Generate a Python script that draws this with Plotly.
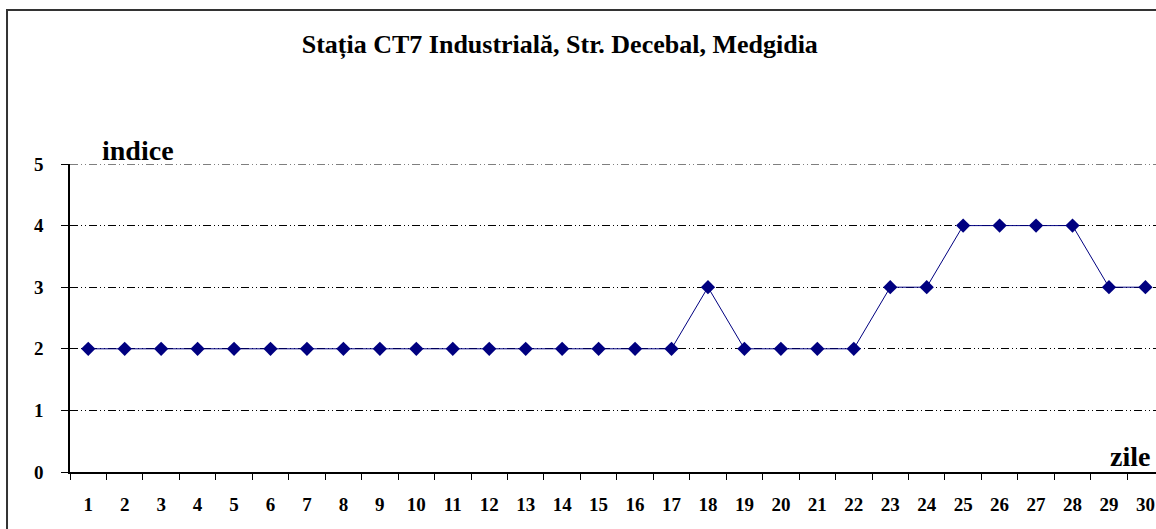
import plotly.graph_objects as go

# ─── Data ────────────────────────────────────────────────────────────────────
zile = [str(d) for d in range(1, 31)]
indice = [2, 2, 2, 2, 2, 2, 2, 2, 2, 2, 2, 2, 2, 2, 2, 2, 2, 3,
          2, 2, 2, 2, 3, 3, 4, 4, 4, 4, 3, 3]
y_ticks = [0, 1, 2, 3, 4, 5]

TITLE = "Stația CT7 Industrială, Str. Decebal, Medgidia"
SERIF = "Liberation Serif, Times New Roman, serif"
NAVY = "#000080"
GRID_DASH = "8px,3px,1px,3px,1px,3px"

fig = go.Figure()
fig.add_trace(go.Scatter(
    x=zile, y=indice,
    mode="lines+markers",
    line=dict(color=NAVY, width=1),
    marker=dict(symbol="diamond", size=11, color=NAVY),
    showlegend=False,
    cliponaxis=False,
))

fig.update_layout(
    width=1156, height=529,
    paper_bgcolor="white", plot_bgcolor="white",
    margin=dict(l=70, r=0, t=164, b=57),
    font=dict(family=SERIF, size=19, color="black", weight="bold"),
    title=dict(text=TITLE, x=0.451, xref="paper", xanchor="center",
               y=0.917, yanchor="middle",
               font=dict(family=SERIF, size=26, color="black", weight="bold")),
)

fig.update_xaxes(
    type="category", range=[-0.5, 29.29],
    showgrid=False, showline=True, linecolor="black", linewidth=1.5,
    ticks="outside", ticklen=6, tickcolor="black", tickson="boundaries",
    ticklabelstandoff=14,
)
fig.update_yaxes(
    range=[0, 5], tickvals=y_ticks,
    showgrid=True, gridcolor="black", gridwidth=1, griddash=GRID_DASH,
    showline=True, linecolor="black", linewidth=1.5,
    ticks="outside", ticklen=7, tickcolor="black",
    ticklabelstandoff=14, zeroline=False,
)

# plotly skips the gridline sitting on the top edge; draw it at 5
fig.add_hline(y=y_ticks[-1], line=dict(color="black", width=1, dash=GRID_DASH),
              layer="below")

# outer chart frame (cropped at right and bottom in the original)
fig.add_shape(type="rect", xref="paper", yref="paper",
              x0=-0.058, x1=1.05, y0=-0.4, y1=1.5,
              line=dict(color="#333333", width=2), layer="below")

fig.add_annotation(text="indice", xref="paper", yref="paper",
                   x=0.0276, y=1.045, xanchor="left", yanchor="middle",
                   showarrow=False,
                   font=dict(family=SERIF, size=28, color="black", weight="bold"))
fig.add_annotation(text="zile", xref="paper", yref="paper",
                   x=0.996, y=0.049, xanchor="right", yanchor="middle",
                   showarrow=False,
                   font=dict(family=SERIF, size=28, color="black", weight="bold"))

# page has no body margin, so the figure fills the window like the original
fig.write_html("out.html",
               config={"displayModeBar": False},
               post_script="document.body.style.margin='0';"
                           "document.body.style.overflow='hidden';")
